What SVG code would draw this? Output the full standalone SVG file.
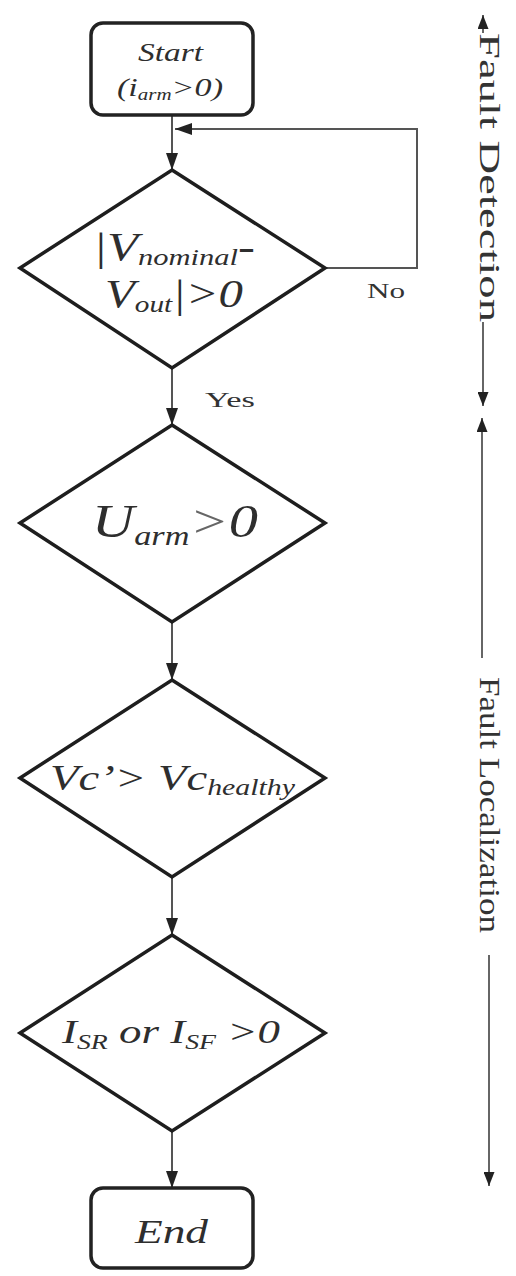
<svg xmlns="http://www.w3.org/2000/svg" width="516" height="1276" viewBox="0 0 516 1276">
<style>
.box{fill:#fff;stroke:#222;stroke-width:3.5}
.dia{fill:#fff;stroke:#1e1e1e;stroke-width:3.5;stroke-linejoin:miter}
.con{fill:none;stroke:#555;stroke-width:2}
.side{fill:none;stroke:#666;stroke-width:2}
.it{font-family:"Liberation Serif","Times New Roman",serif;font-style:italic;fill:#2e2e2e}
.rm{font-family:"Liberation Serif","Times New Roman",serif;fill:#333}
</style>
<defs>
<marker id="ah" markerUnits="userSpaceOnUse" markerWidth="17" markerHeight="12" refX="17" refY="6" orient="auto">
<path d="M0,0 L17,6 L0,12 z" fill="#222"/>
</marker>
<marker id="sh" markerUnits="userSpaceOnUse" markerWidth="14" markerHeight="11" refX="14" refY="5.5" orient="auto">
<path d="M0,0 L14,5.5 L0,11 z" fill="#222"/>
</marker>
</defs>
<rect width="516" height="1276" fill="#fff"/>

<g id="connectors">
<line class="con" x1="172" y1="115" x2="172" y2="170" marker-end="url(#ah)"/>
<path class="con" d="M325,268 H417 V129 H175" marker-end="url(#ah)"/>
<line class="con" x1="172" y1="368" x2="172" y2="425" marker-end="url(#ah)"/>
<line class="con" x1="172" y1="622" x2="172" y2="680" marker-end="url(#ah)"/>
<line class="con" x1="172" y1="877" x2="172" y2="935" marker-end="url(#ah)"/>
<line class="con" x1="172" y1="1131" x2="172" y2="1188" marker-end="url(#ah)"/>
<text class="rm" x="367" y="298" font-size="21" textLength="38" lengthAdjust="spacingAndGlyphs">No</text>
<text class="rm" x="205" y="407" font-size="21" textLength="50" lengthAdjust="spacingAndGlyphs">Yes</text>
</g>

<g id="start">
<rect class="box" x="91" y="23" width="162" height="92" rx="12"/>
<text class="it" x="138" y="61" font-size="26" textLength="65" lengthAdjust="spacingAndGlyphs">Start</text>
<text class="it" x="117" y="96" font-size="26" textLength="106" lengthAdjust="spacingAndGlyphs">(i<tspan font-size="16" dy="4">arm</tspan><tspan dy="-4">&gt;0)</tspan></text>
</g>

<g id="d1">
<polygon class="dia" points="172,170 325,268 172,368 20,268"/>
<text class="it" x="93" y="260" font-size="40" textLength="162" lengthAdjust="spacingAndGlyphs">|V<tspan font-size="24" dy="5">nominal</tspan><tspan dy="-5">-</tspan></text>
<text class="it" x="105" y="307" font-size="40" textLength="138" lengthAdjust="spacingAndGlyphs">V<tspan font-size="24" dy="5">out</tspan><tspan dy="-5">|&gt;0</tspan></text>
</g>

<g id="d2">
<polygon class="dia" points="172,425 325,523 172,622 20,523"/>
<text class="it" x="92" y="537" font-size="46" textLength="166" lengthAdjust="spacingAndGlyphs">U<tspan font-size="27" dy="8">arm</tspan><tspan dy="-8" fill="#666">&gt;</tspan>0</text>
</g>

<g id="d3">
<polygon class="dia" points="172,680 325,778 172,877 20,778"/>
<text class="it" x="50" y="790" font-size="36" textLength="245" lengthAdjust="spacingAndGlyphs">Vc’&gt; Vc<tspan font-size="23" dy="5">healthy</tspan></text>
</g>

<g id="d4">
<polygon class="dia" points="172,935 325,1033 172,1131 20,1033"/>
<text class="it" x="62" y="1043" font-size="34" textLength="218" lengthAdjust="spacingAndGlyphs">I<tspan font-size="21" dy="6">SR</tspan><tspan dy="-6"> or I</tspan><tspan font-size="21" dy="6">SF</tspan><tspan dy="-6"> &gt;0</tspan></text>
</g>

<g id="end">
<rect class="box" x="91" y="1188" width="162" height="80" rx="12"/>
<text class="it" x="135" y="1243" font-size="34" textLength="73" lengthAdjust="spacingAndGlyphs">End</text>
</g>

<g id="fault-detection">
<line class="side" x1="483" y1="33" x2="483" y2="15" marker-end="url(#sh)"/>
<line class="side" x1="483" y1="322" x2="483" y2="406" marker-end="url(#sh)"/>
<text class="rm" transform="translate(480,33) rotate(90)" font-size="30" textLength="289" lengthAdjust="spacingAndGlyphs">Fault Detection</text>
</g>

<g id="fault-localization">
<line class="side" x1="482" y1="658" x2="482" y2="418" marker-end="url(#sh)"/>
<line class="side" x1="489" y1="955" x2="489" y2="1186" marker-end="url(#sh)"/>
<text class="rm" transform="translate(480,677) rotate(90)" font-size="30" textLength="256" lengthAdjust="spacingAndGlyphs">Fault Localization</text>
</g>
</svg>
